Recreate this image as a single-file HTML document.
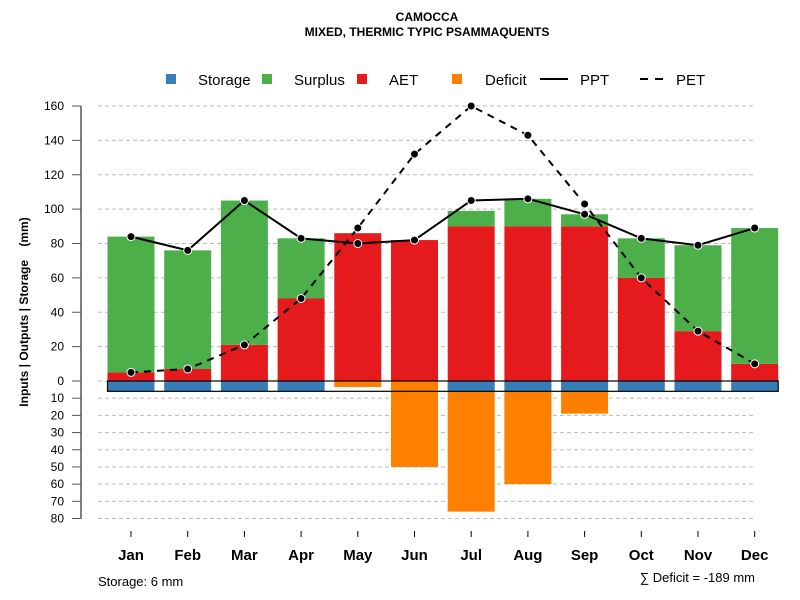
<!DOCTYPE html>
<html><head><meta charset="utf-8"><style>
body{margin:0;background:#fff}
svg{display:block}
text{font-family:"Liberation Sans",sans-serif;fill:#000}
.n{font-family:"Liberation Sans Narrow","Liberation Sans",sans-serif}
</style></head><body>
<svg id="c" width="800" height="600">
<text x="427" y="21" text-anchor="middle" font-size="12" font-weight="bold">CAMOCCA</text>
<text x="427" y="36" text-anchor="middle" font-size="12" font-weight="bold">MIXED, THERMIC TYPIC PSAMMAQUENTS</text>
<g font-size="15">
<rect x="166" y="74" width="10" height="10" fill="#377eb8"/>
<text x="198" y="85">Storage</text>
<rect x="262" y="74" width="10" height="10" fill="#4daf4a"/>
<text x="294" y="85">Surplus</text>
<rect x="357" y="74" width="10" height="10" fill="#e41a1c"/>
<text x="389" y="85">AET</text>
<rect x="452" y="74" width="10" height="10" fill="#ff7f00"/>
<text x="485" y="85">Deficit</text>
<line x1="540" y1="79" x2="568" y2="79" stroke="#000" stroke-width="2"/>
<text x="580" y="85">PPT</text>
<line x1="640" y1="79" x2="668" y2="79" stroke="#000" stroke-width="2" stroke-dasharray="8,7"/>
<text x="676" y="85">PET</text>
</g>
<text transform="translate(28,312) rotate(-90)" text-anchor="middle" font-size="12" font-weight="bold" xml:space="preserve">Inputs | Outputs | Storage    (mm)</text>
<g id="grid"></g><g id="bars"></g><g id="lines"></g><g id="axes"></g>
<text x="98" y="586" font-size="13" class="n">Storage: 6 mm</text>
<text x="755" y="582" font-size="13" class="n" text-anchor="end">∑ Deficit = -189 mm</text>
</svg>
<script>
const months=["Jan","Feb","Mar","Apr","May","Jun","Jul","Aug","Sep","Oct","Nov","Dec"];
const aet=[5,7,21,48,86,82,90,90,90,60,29,10];
const surplus=[79,69,84,35,0,0,9,16,7,23,50,79];
const storage=[6,6,6,6,0,0,6,6,6,6,6,6];
const deficit=[0,0,0,0,3.5,50,76,60,19,0,0,0];
const ppt=[84,76,105,83,80,82,105,106,97,83,79,89];
const pet=[5,7,21,48,89,132,160,143,103,60,29,10];
const upTicks=[0,20,40,60,80,100,120,140,160];
const downTicks=[10,20,30,40,50,60,70,80];
const NS="http://www.w3.org/2000/svg";
const Y0=381,K=275/160;
const y=v=>Y0-v*K;
const x=i=>131+i*56.7;
const BW=47;
function mk(p,t,a){const e=document.createElementNS(NS,t);for(const k in a)e.setAttribute(k,a[k]);document.getElementById(p).appendChild(e);return e;}
upTicks.forEach(v=>{
 const l=mk('grid','line',{x1:98,x2:755,y1:y(v),y2:y(v),stroke:'#bbb','stroke-dasharray':'4,3'});
 
 
 const t=mk('axes','line',{x1:72,x2:81,y1:y(v),y2:y(v),stroke:'#555'});
 
 
 const tx=mk('axes','text',{x:64,y:y(v)+4,'text-anchor':'end','font-size':12});tx.textContent=v;
 
 
});
downTicks.forEach(v=>{
 const l=mk('grid','line',{x1:98,x2:755,y1:y(-v),y2:y(-v),stroke:'#bbb','stroke-dasharray':'4,3'});
 
 
 const t=mk('axes','line',{x1:72,x2:81,y1:y(-v),y2:y(-v),stroke:'#555'});
 
 
 const tx=mk('axes','text',{x:64,y:y(-v)+4,'text-anchor':'end','font-size':12});tx.textContent=v;
 
 
});
const ax=mk('axes','line',{x1:81,x2:81,y1:y(160),y2:y(-80),stroke:'#555','stroke-width':1.5});


months.forEach((m,i)=>{
 const cx=x(i);
 const d=mk('bars','rect',{x:cx-BW/2,y:Y0,width:BW,height:deficit[i]*K,fill:'#ff7f00'});
 
 
 const a=mk('bars','rect',{x:cx-BW/2,y:y(aet[i]),width:BW,height:aet[i]*K,fill:'#e41a1c'});
 
 
 const s=mk('bars','rect',{x:cx-BW/2,y:y(aet[i]+surplus[i]),width:BW,height:surplus[i]*K,fill:'#4daf4a'});
 
 
 const st=mk('bars','rect',{x:cx-BW/2,y:Y0,width:BW,height:storage[i]*K,fill:'#377eb8'});
 
 
 const tk=mk('axes','line',{x1:cx,x2:cx,y1:531,y2:537,stroke:'#000'});
 
 
 const lb=mk('axes','text',{x:cx,y:560,'text-anchor':'middle','font-size':15,'font-weight':'bold',class:'n'});lb.textContent=m;
 
 
});
const box=mk('bars','rect',{x:x(0)-BW/2,y:Y0,width:x(11)-x(0)+BW,height:6*K,fill:'none',stroke:'#000','stroke-width':1.2});


function series(arr,name,dash){
 const p=mk('lines','polyline',{points:arr.map((v,i)=>x(i)+','+y(v)).join(' '),fill:'none',stroke:'#000','stroke-width':2,'stroke-dasharray':dash});
 
 
 arr.forEach((v,i)=>{
  const c=mk('lines','circle',{cx:x(i),cy:y(v),r:4,fill:'#000',stroke:'#fff','stroke-width':1});
  
  
 });
}
series(pet,'pet','7,6');
series(ppt,'ppt','none');
</script>
</body></html>
